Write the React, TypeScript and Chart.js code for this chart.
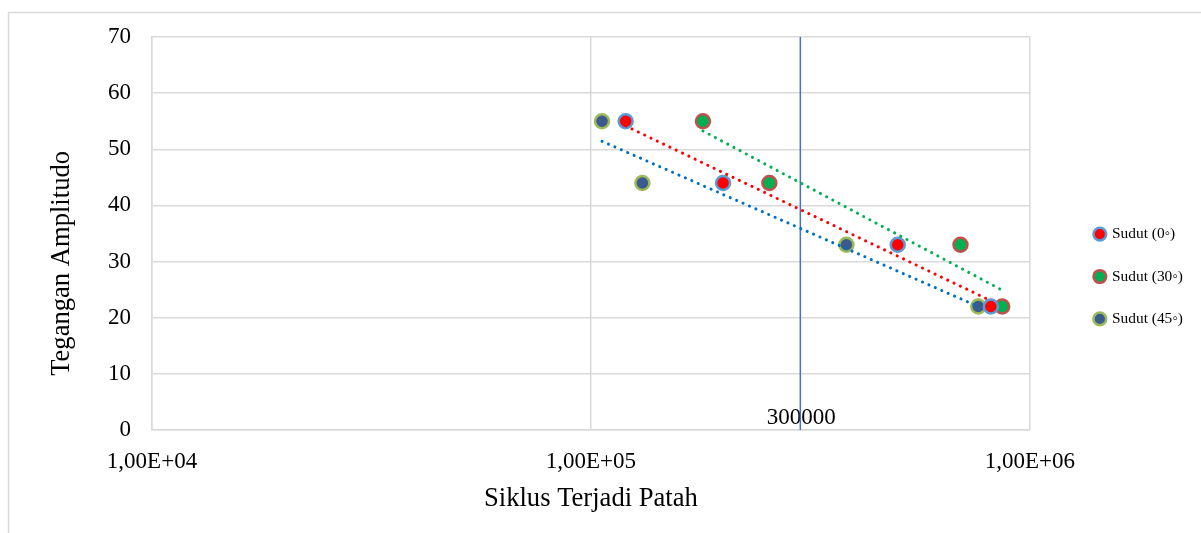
import React, { useEffect, useRef } from 'react';
import { Chart, registerables } from 'chart.js';

Chart.register(...registerables);

// ---- data ----
const seriesLabels = ['Sudut (0◦)', 'Sudut (30◦)', 'Sudut (45◦)'];
const sudut0Cycles = [120000, 200000, 500000, 815000];
const sudut0Stress = [55, 44, 33, 22];
const sudut30Cycles = [180000, 255000, 695000, 865000];
const sudut30Stress = [55, 44, 33, 22];
const sudut45Cycles = [106000, 131000, 382000, 763000];
const sudut45Stress = [55, 44, 33, 22];
const xTickValues = [10000, 100000, 1000000];
const xTickLabels = ['1,00E+04', '1,00E+05', '1,00E+06'];
const yMin = 0;
const yMax = 70;
const yStep = 10;
const limitCycles = 300000;
const limitLabel = '300000';
const xTitle = 'Siklus Terjadi Patah';
const yTitle = 'Tegangan Amplitudo';

const FONT = "'Liberation Serif', 'Times New Roman', serif";
const GRID = '#D9D9D9';

function toPoints(xs: number[], ys: number[]) {
  return xs.map((x, i) => ({ x, y: ys[i] }));
}

// logarithmic least-squares trendline (y = a*log10(x) + b), as Excel draws it
function logTrend(xs: number[], ys: number[]) {
  const lx = xs.map((v) => Math.log10(v));
  const n = lx.length;
  const mx = lx.reduce((a, b) => a + b, 0) / n;
  const my = ys.reduce((a, b) => a + b, 0) / n;
  let sxy = 0;
  let sxx = 0;
  for (let i = 0; i < n; i++) {
    sxy += (lx[i] - mx) * (ys[i] - my);
    sxx += (lx[i] - mx) * (lx[i] - mx);
  }
  const a = sxy / sxx;
  const b = my - a * mx;
  const x0 = Math.min(...xs);
  const x1 = Math.max(...xs);
  return [
    { x: x0, y: a * Math.log10(x0) + b },
    { x: x1, y: a * Math.log10(x1) + b },
  ];
}

const framePlugin = {
  id: 'frame',
  beforeDraw(chart: any) {
    const { ctx, width, height } = chart;
    ctx.save();
    ctx.fillStyle = '#ffffff';
    ctx.fillRect(0, 0, width, height);
    ctx.strokeStyle = GRID;
    ctx.lineWidth = 1.5;
    ctx.beginPath();
    ctx.moveTo(width, 12.5);
    ctx.lineTo(8.5, 12.5);
    ctx.lineTo(8.5, height);
    ctx.stroke();
    ctx.restore();
  },
};

const limitLabelPlugin = {
  id: 'limitLabel',
  beforeDatasetsDraw(chart: any) {
    const { ctx } = chart;
    const xs = chart.scales.x;
    const ys = chart.scales.y;
    ctx.save();
    ctx.font = `23px ${FONT}`;
    ctx.fillStyle = '#000000';
    ctx.textAlign = 'center';
    ctx.textBaseline = 'middle';
    ctx.fillText(limitLabel, xs.getPixelForValue(limitCycles) + 1, ys.getPixelForValue(yMin) - 12);
    ctx.restore();
  },
};

export default function App() {
  const canvasRef = useRef<HTMLCanvasElement | null>(null);

  useEffect(() => {
    const canvas = canvasRef.current;
    if (!canvas) return;

    const pointCommon = {
      pointRadius: 7,
      pointHoverRadius: 7,
      borderWidth: 2.5,
      pointStyle: 'circle',
      showLine: false,
    };
    const trendCommon = {
      showLine: true,
      pointRadius: 0,
      borderWidth: 3,
      borderDash: [0.1, 6.9],
      borderCapStyle: 'round',
      fill: false,
      order: -1,
    };

    const chart = new Chart(canvas, {
      type: 'scatter',
      data: {
        datasets: [
          {
            label: seriesLabels[0],
            data: toPoints(sudut0Cycles, sudut0Stress),
            backgroundColor: '#FF0000',
            borderColor: '#5B9BD5',
            ...pointCommon,
          },
          {
            label: seriesLabels[1],
            data: toPoints(sudut30Cycles, sudut30Stress),
            backgroundColor: '#00B050',
            borderColor: '#C0504D',
            ...pointCommon,
          },
          {
            label: seriesLabels[2],
            data: toPoints(sudut45Cycles, sudut45Stress),
            backgroundColor: '#3B5A8E',
            borderColor: '#9BBB59',
            ...pointCommon,
          },
          {
            label: 'trend0',
            data: logTrend(sudut0Cycles, sudut0Stress),
            borderColor: '#FF0000',
            backgroundColor: '#FF0000',
            ...trendCommon,
          },
          {
            label: 'trend30',
            data: logTrend(sudut30Cycles, sudut30Stress),
            borderColor: '#00B050',
            backgroundColor: '#00B050',
            ...trendCommon,
          },
          {
            label: 'trend45',
            data: logTrend(sudut45Cycles, sudut45Stress),
            borderColor: '#0070C0',
            backgroundColor: '#0070C0',
            ...trendCommon,
          },
          {
            label: 'limit',
            data: [
              { x: limitCycles, y: yMin },
              { x: limitCycles, y: yMax },
            ],
            showLine: true,
            pointRadius: 0,
            borderColor: '#4472C4',
            backgroundColor: '#4472C4',
            borderWidth: 1.5,
            order: 1,
          },
        ],
      } as any,
      options: {
        responsive: false,
        animation: false,
        devicePixelRatio: 1,
        layout: { padding: { top: 37, right: 8.1, bottom: 17, left: 0 } },
        plugins: {
          tooltip: { enabled: false },
          title: { display: false },
          legend: {
            display: true,
            position: 'right',
            align: 'center',
            labels: {
              usePointStyle: true,
              pointStyle: 'circle',
              boxWidth: 9,
              boxHeight: 9,
              padding: 27,
              color: '#000000',
              font: { family: FONT, size: 15.4 },
              filter: (item: any) => item.datasetIndex < 3,
            },
          },
        },
        scales: {
          x: {
            type: 'logarithmic',
            min: xTickValues[0],
            max: xTickValues[xTickValues.length - 1],
            afterBuildTicks: (scale: any) => {
              scale.ticks = xTickValues.map((v) => ({ value: v }));
            },
            afterFit: (scale: any) => {
              scale.height = 86;
            },
            ticks: {
              autoSkip: false,
              maxRotation: 0,
              padding: 18,
              color: '#000000',
              font: { family: FONT, size: 23 },
              callback: (value: any) => {
                const i = xTickValues.indexOf(Number(value));
                return i >= 0 ? xTickLabels[i] : '';
              },
            },
            grid: { color: GRID, lineWidth: 1.5, drawTicks: false },
            border: { display: true, color: GRID, width: 1.5 },
            title: {
              display: true,
              text: xTitle,
              color: '#000000',
              font: { family: FONT, size: 26.6 },
              padding: { top: 0, bottom: 1 },
            },
          },
          y: {
            type: 'linear',
            position: 'left',
            min: yMin,
            max: yMax,
            afterFit: (scale: any) => {
              scale.width = 152;
            },
            ticks: {
              stepSize: yStep,
              padding: 21,
              color: '#000000',
              font: { family: FONT, size: 23 },
            },
            grid: { color: GRID, lineWidth: 1.5, drawTicks: false },
            border: { display: true, color: GRID, width: 1.5 },
            title: {
              display: true,
              text: yTitle + '         ',
              color: '#000000',
              font: { family: FONT, size: 26.6 },
              padding: { top: 46, bottom: 0 },
            },
          },
          y2: {
            type: 'linear',
            position: 'right',
            display: true,
            afterFit: (scale: any) => {
              scale.width = 38.5;
            },
            ticks: { display: false },
            grid: { display: false, drawTicks: false },
            border: { display: false },
          },
        },
      } as any,
      plugins: [framePlugin, limitLabelPlugin],
    });

    return () => {
      chart.destroy();
    };
  }, []);

  return (
    <div style={{ position: 'fixed', left: 0, top: 0, width: 1201, height: 533, background: '#ffffff' }}>
      <canvas ref={canvasRef} width={1201} height={533} style={{ display: 'block', width: 1201, height: 533 }} />
    </div>
  );
}
